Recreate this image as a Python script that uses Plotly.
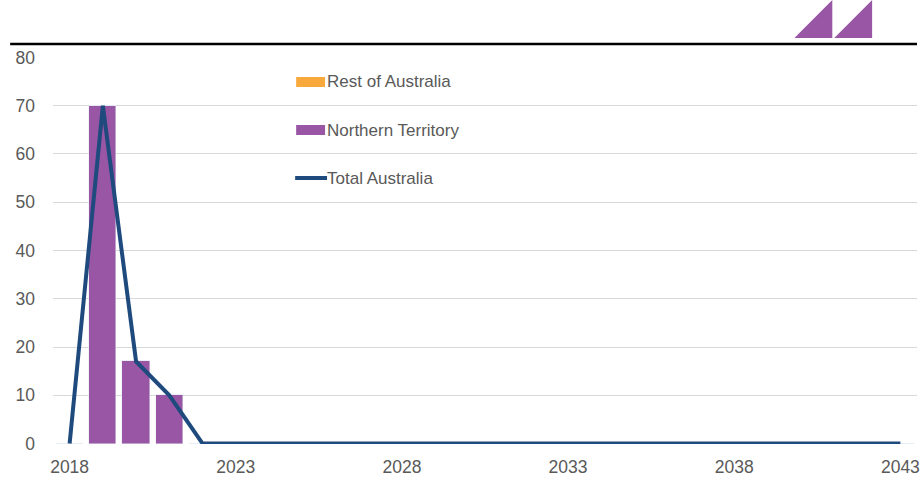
import plotly.graph_objects as go

years = list(range(2018, 2044))
northern_territory = [0, 70, 17, 10, 0, 0, 0, 0, 0, 0, 0, 0, 0, 0, 0, 0, 0, 0, 0, 0, 0, 0, 0, 0, 0, 0]
rest_of_australia = [0, 0, 0, 0, 0, 0, 0, 0, 0, 0, 0, 0, 0, 0, 0, 0, 0, 0, 0, 0, 0, 0, 0, 0, 0, 0]
total_australia = [0, 70, 17, 10, 0, 0, 0, 0, 0, 0, 0, 0, 0, 0, 0, 0, 0, 0, 0, 0, 0, 0, 0, 0, 0, 0]
x_ticks = [2018, 2023, 2028, 2033, 2038, 2043]
y_ticks = [0, 10, 20, 30, 40, 50, 60, 70, 80]

PURPLE = "#9856A5"
ORANGE = "#F9A93B"
NAVY = "#1F4A7D"
GREY = "#595959"
FONT = "Liberation Sans, Arial, sans-serif"

W, H = 920, 482
L, R, T, B = 53, 0, 57, 38
PW, PH = W - L - R, H - T - B


def px(x):
    return (x - L) / PW


def py(y):
    return 1 - (y - T) / PH


fig = go.Figure()
fig.add_trace(go.Bar(x=years, y=northern_territory, marker_color=PURPLE, width=0.82,
                     name="Northern Territory", showlegend=False))
fig.add_trace(go.Bar(x=years, y=rest_of_australia, marker_color=ORANGE, width=0.82,
                     name="Rest of Australia", showlegend=False))
fig.add_trace(go.Scatter(x=years, y=total_australia, mode="lines",
                         line=dict(color=NAVY, width=4), name="Total Australia",
                         showlegend=False, cliponaxis=False))

shapes = []
# top rule
shapes.append(dict(type="line", xref="paper", yref="paper", x0=px(10), x1=px(920),
                   y0=py(44), y1=py(44), line=dict(color="black", width=2.5)))
# logo triangles
for x0 in (797, 837):
    shapes.append(dict(type="path", xref="paper", yref="paper",
                       path=f"M {px(x0)},{py(38)} L {px(x0+38)},{py(38)} L {px(x0+38)},{py(0)} Z",
                       fillcolor=PURPLE, line=dict(width=0)))
# custom legend
legend_items = [("Rest of Australia", ORANGE, "bar", 82),
                ("Northern Territory", PURPLE, "bar", 130),
                ("Total Australia", NAVY, "line", 178)]
annotations = []
for label, color, kind, yc in legend_items:
    if kind == "bar":
        shapes.append(dict(type="rect", xref="paper", yref="paper",
                           x0=px(297), x1=px(326), y0=py(yc - 5), y1=py(yc + 5),
                           fillcolor=color, line=dict(width=0)))
    else:
        shapes.append(dict(type="line", xref="paper", yref="paper",
                           x0=px(296), x1=px(328), y0=py(yc), y1=py(yc),
                           line=dict(color=color, width=4)))
    annotations.append(dict(xref="paper", yref="paper", x=px(326), y=py(yc),
                            xanchor="left", yanchor="middle", text=label, showarrow=False,
                            font=dict(family=FONT, size=17, color=GREY)))

fig.update_layout(
    width=W, height=H,
    margin=dict(l=L, r=R, t=T, b=B),
    paper_bgcolor="white", plot_bgcolor="white",
    barmode="stack", bargap=0,
    font=dict(family=FONT, size=17.5, color=GREY),
    shapes=shapes, annotations=annotations,
    xaxis=dict(range=[2017.5, 2043.5], tickvals=x_ticks, ticktext=[str(v) for v in x_ticks],
               showgrid=False, zeroline=False, showline=False, ticks="",
               ticklabelstandoff=10, ticklabeloverflow="allow",
               tickfont=dict(family=FONT, size=17.5, color=GREY)),
    yaxis=dict(range=[-0.1, 80.1], tickvals=y_ticks, showgrid=True, gridcolor="#D9D9D9",
               gridwidth=1, zeroline=False, showline=False, ticks="",
               ticklabelstandoff=17,
               tickfont=dict(family=FONT, size=17.5, color=GREY)),
)

fig.write_html("out.html", config={"displayModeBar": False},
               post_script="document.body.style.margin='0';")
